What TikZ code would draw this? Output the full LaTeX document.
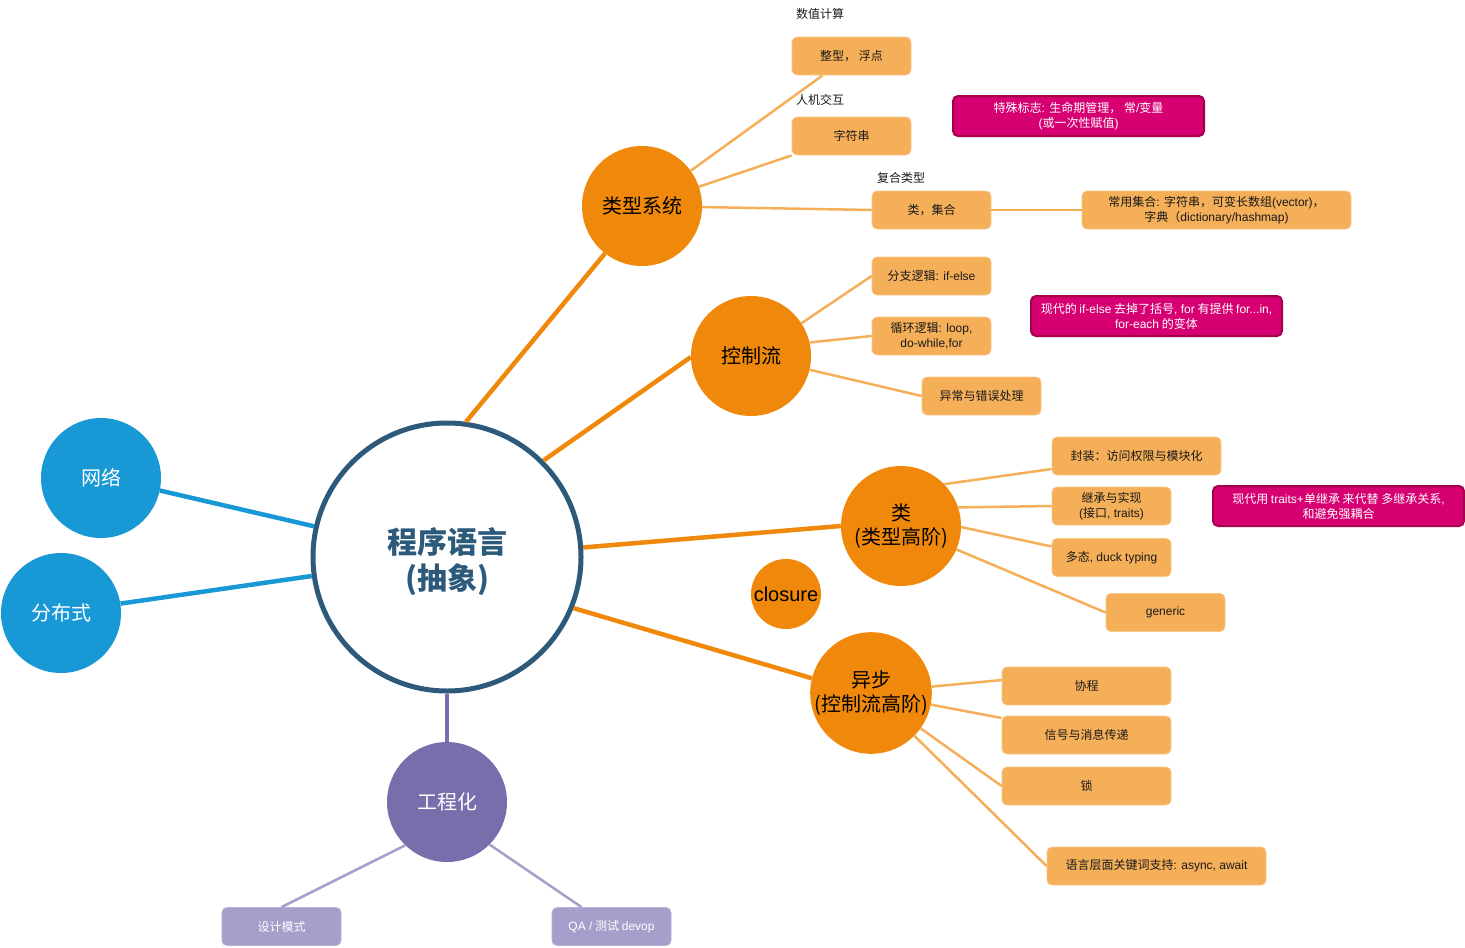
\documentclass[tikz,border=0pt]{standalone}
\usepackage{fontspec}
\setmainfont{Noto Sans CJK SC}
\newfontfamily\lat{Liberation Sans}
\usetikzlibrary{calc}
\definecolor{coreblue}{HTML}{2D5A7B}
\definecolor{netblue}{HTML}{1899D6}
\definecolor{engpurple}{HTML}{776EAB}
\definecolor{lightpurple}{HTML}{A49FCB}
\definecolor{mainorange}{HTML}{F0890B}
\definecolor{leaforange}{HTML}{F5AF59}
\definecolor{leafedge}{HTML}{F8C686}
\definecolor{notepink}{HTML}{D60072}
\definecolor{noteedge}{HTML}{A5004A}
% short-hand for runs of Latin text inside Chinese labels
\newcommand{\lt}[1]{{\lat #1}}
\tikzset{
  core/.style={circle, draw=coreblue, line width=5pt, fill=white, minimum size=268pt, inner sep=0pt,
    align=center, text=coreblue, font=\fontsize{30}{36}\selectfont\bfseries},
  topic/.style={circle, minimum size=120pt, inner sep=0pt, align=center, font=\fontsize{20}{24}\selectfont},
  bluetopic/.style={topic, fill=netblue, text=white},
  orangetopic/.style={topic, fill=mainorange, text=black},
  purpletopic/.style={topic, fill=engpurple, text=white},
  leaf/.style={rectangle, rounded corners=5pt, fill=leaforange, draw=leafedge, line width=0.8pt,
    minimum width=119pt, minimum height=38pt, inner sep=2pt, align=center, text=black!90,
    font=\fontsize{12}{15}\selectfont},
  pleaf/.style={leaf, fill=lightpurple, draw=lightpurple!80!white, text=white},
  note/.style={rectangle, rounded corners=5pt, fill=notepink, draw=noteedge, line width=2pt,
    minimum width=251pt, minimum height=40pt, inner sep=2pt, align=center, text=white,
    font=\fontsize{12}{15}\selectfont},
  caption/.style={font=\fontsize{12}{15}\selectfont, text=black!90},
  mainline/.style={line width=4.5pt},
  leafline/.style={draw=leaforange, line width=2.5pt},
}
\begin{document}
\begin{tikzpicture}[x=1pt,y=-1pt]
\useasboundingbox (0,0) rectangle (1465,948);

% centre and main topics
\node[core] (c) at (447,557) {\raisebox{-7pt}[\height][\depth]{\begin{tabular}{@{}c@{}}程序语言\\(抽象)\end{tabular}}};
\node[bluetopic] (net) at (101,478) {网络};
\node[bluetopic] (dist) at (61,613) {分布式};
\node[purpletopic] (eng) at (447,802) {工程化};
\node[orangetopic] (ts) at (642,206) {类型系统};
\node[orangetopic] (cf) at (751,356) {控制流};
\node[orangetopic] (cls) at (901,526) {类\\(类型高阶)};
\node[orangetopic] (as) at (871,693) {异步\\(控制流高阶)};
\node[circle, fill=mainorange, minimum size=70pt, inner sep=0pt, font=\fontsize{20}{24}\selectfont\lat] (clo) at (786,594) {closure};

% type system
\node[caption] (numcap) at (820,14) {数值计算};
\node[leaf] (int) at (851.5,56) {整型， 浮点};
\node[caption] (hcicap) at (820,100) {人机交互};
\node[leaf] (str) at (851.5,136) {字符串};
\node[caption] (compcap) at (901,178) {复合类型};
\node[leaf] (coll) at (931.5,210) {类，集合};
\node[leaf, minimum width=269pt] (collx) at (1216.5,210) {常用集合\lt{: }字符串，可变长数组\lt{(vector)}，\\字典（\lt{dictionary/hashmap)}};
\node[note] (n1) at (1078.5,116) {特殊标志\lt{: }生命期管理， 常\lt{/}变量\\\lt{(}或一次性赋值\lt{)}};

% control flow
\node[leaf] (br) at (931.5,276) {分支逻辑\lt{: if-else}};
\node[leaf] (loop) at (931.5,336) {循环逻辑\lt{: loop,}\\\lt{do-while,for}};
\node[leaf] (exc) at (981.5,396) {异常与错误处理};
\node[note] (n2) at (1156.5,316) {现代的 \lt{if-else} 去掉了括号\lt{, for} 有提供 \lt{for...in,}\\\lt{for-each} 的变体};

% classes
\node[leaf, minimum width=169pt] (enc) at (1136.5,456) {封装：访问权限与模块化};
\node[leaf] (inh) at (1111.5,506) {继承与实现\\\lt{(}接口\lt{, traits)}};
\node[leaf] (poly) at (1111.5,557.5) {多态\lt{, duck typing}};
\node[leaf, font=\fontsize{12}{15}\selectfont\lat] (gen) at (1165.5,612.5) {generic};
\node[note] (n3) at (1338.5,506) {现代用 \lt{traits+}单继承 来代替 多继承关系\lt{,}\\和避免强耦合};

% async
\node[leaf, minimum width=169pt] (coro) at (1086.5,686) {协程};
\node[leaf, minimum width=169pt] (sig) at (1086.5,735) {信号与消息传递};
\node[leaf, minimum width=169pt] (lock) at (1086.5,786) {锁};
\node[leaf, minimum width=219pt] (aw) at (1156.5,866) {语言层面关键词支持\lt{: async, await}};

% engineering
\node[pleaf] (design) at (281.5,926.5) {设计模式};
\node[pleaf] (qa) at (611.5,926.5) {\lt{QA /} 测试 \lt{devop}};

% main connectors
\draw[mainline, netblue] (net.-12) -- (c.167);
\draw[mainline, netblue] (dist.9) -- (c.188);
\draw[mainline, engpurple] (c.south) -- (eng.north);
\draw[mainline, mainorange] (c.82) -- (ts.-128);
\draw[mainline, mainorange] (c.45) -- (cf.181);
\draw[mainline, mainorange] (c.4) -- (cls.180);
\draw[mainline, mainorange] (c.-22) -- (as.166);

% leaf connectors
\draw[leafline] (ts) -- ($(int.south west)+(31,0)$);
\draw[leafline] (ts) -- (str.south west);
\draw[leafline] (ts) -- (coll.west);
\draw[leafline] (coll) -- (collx);
\draw[leafline] (cf.33) -- (br.west);
\draw[leafline] (cf.13) -- (loop.west);
\draw[leafline] (cf) -- (exc.west);
\draw[leafline] (cls.44) -- ($(enc.west)+(0,13)$);
\draw[leafline] (cls.18) -- (inh.west);
\draw[leafline] (cls.-1) -- ($(poly.west)+(0,-11)$);
\draw[leafline] (cls) -- (gen.west);
\draw[leafline] (as.6) -- ($(coro.west)+(0,-6)$);
\draw[leafline] (as.-11) -- ($(sig.west)+(0,-17)$);
\draw[leafline] (as) -- (lock.west);
\draw[leafline] (as) -- (aw.west);
\draw[draw=lightpurple, line width=2.5pt] (eng.-134) -- (design.north);
\draw[draw=lightpurple, line width=2.5pt] (eng.-45) -- ($(qa.north)+(-30,0)$);
\end{tikzpicture}
\end{document}
